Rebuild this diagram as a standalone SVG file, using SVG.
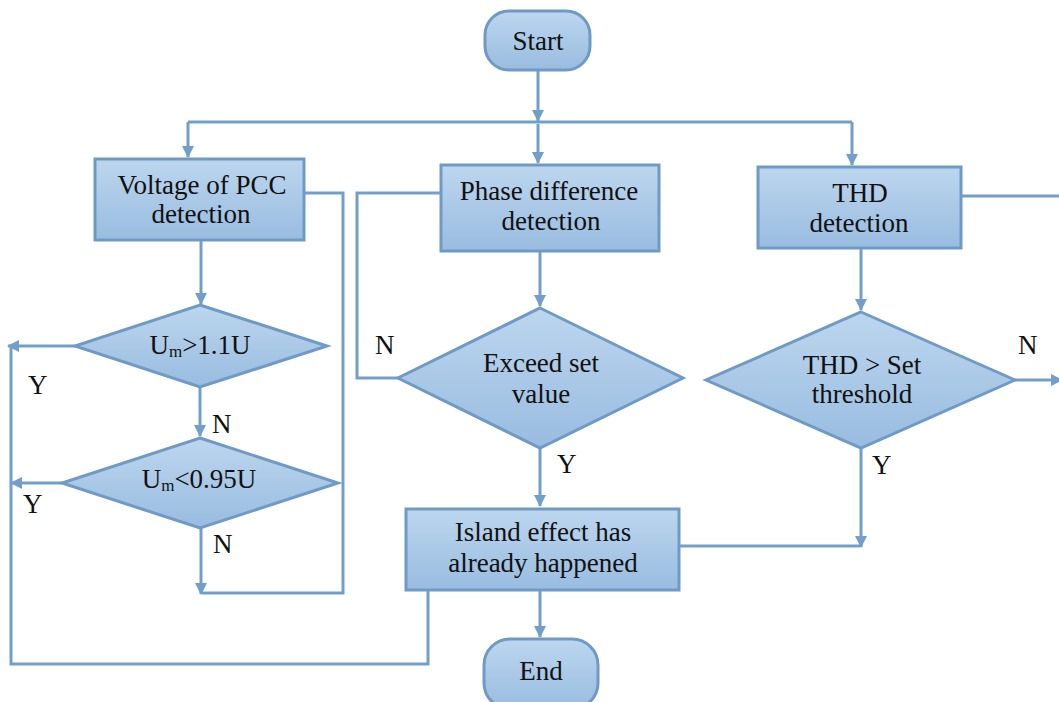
<svg xmlns="http://www.w3.org/2000/svg" width="1059" height="702" viewBox="0 0 1059 702">
<defs>
<linearGradient id="g" x1="0" y1="0" x2="0" y2="1">
<stop offset="0" stop-color="#bdd6ee"/>
<stop offset="1" stop-color="#98bce0"/>
</linearGradient>
<marker id="ah" viewBox="0 0 12 12" refX="11" refY="6" markerWidth="12" markerHeight="12" orient="auto" markerUnits="userSpaceOnUse">
<path d="M0,0 L12,6 L0,12 Z" fill="#729fc9"/>
</marker>
</defs>
<style>
.n{fill:url(#g);stroke:#6f9ac6;stroke-width:3}
.t{font-family:"Liberation Serif","Times New Roman",serif;font-size:27px;fill:#111;text-anchor:middle}
.l{font-family:"Liberation Serif","Times New Roman",serif;font-size:27px;fill:#111}
.c{fill:none;stroke:#729fc9;stroke-width:3}
.a{marker-end:url(#ah)}
</style>
<rect width="1059" height="702" fill="#fff"/>
<g id="connectors">
<path class="c a" d="M538,70 V121"/>
<path class="c" d="M188,122 H852"/>
<path class="c a" d="M188,122 V157"/>
<path class="c a" d="M538,124 V163"/>
<path class="c a" d="M852,122 V165"/>
<path class="c" d="M304,193 H343 V593 H202"/>
<path class="c" d="M440,193 H357 V378 H398"/>
<path class="c a" d="M201,240 V304"/>
<path class="c a" d="M75,346 H8"/>
<path class="c" d="M11,346 V664 H428 V590"/>
<path class="c a" d="M200,387 V436"/>
<path class="c a" d="M62,483 H11"/>
<path class="c a" d="M201,528 V594"/>
<path class="c a" d="M540,251 V306"/>
<path class="c a" d="M540,448 V506"/>
<path class="c" d="M679,546 H860"/>
<path class="c a" d="M861,448 V547"/>
<path class="c a" d="M540,590 V637"/>
<path class="c a" d="M861,248 V310"/>
<path class="c" d="M961,196 H1059"/>
<path class="c a" d="M1015,380 H1062"/>
</g>
<g id="start"><rect class="n" x="485" y="11" width="105" height="59" rx="24"/><text class="t" x="538" y="50">Start</text></g>
<g id="voltage"><rect class="n" x="95" y="159" width="209" height="81"/><text class="t" x="202" y="194">Voltage of PCC</text><text class="t" x="201" y="223">detection</text></g>
<g id="phase"><rect class="n" x="441" y="165" width="218" height="86"/><text class="t" x="549" y="200">Phase difference</text><text class="t" x="551" y="230">detection</text></g>
<g id="thd"><rect class="n" x="758" y="167" width="203" height="81"/><text class="t" x="860" y="202">THD</text><text class="t" x="859" y="232">detection</text></g>
<g id="d1"><polygon class="n" points="200,305 327,346 200,387 75,346"/><text class="t" x="200" y="354">U<tspan font-size="17" dy="3">m</tspan><tspan dy="-3">&gt;1.1U</tspan></text></g>
<g id="d2"><polygon class="n" points="200,438 338,483 200,528 62,483"/><text class="t" x="199" y="488">U<tspan font-size="17" dy="3">m</tspan><tspan dy="-3">&lt;0.95U</tspan></text></g>
<g id="d3"><polygon class="n" points="540,308 683,378 540,448 398,378"/><text class="t" x="541" y="372">Exceed set</text><text class="t" x="541" y="403">value</text></g>
<g id="d4"><polygon class="n" points="861,312 1015,380 861,448 706,380"/><text class="t" x="862" y="374">THD &gt; Set</text><text class="t" x="862" y="403">threshold</text></g>
<g id="island"><rect class="n" x="406" y="509" width="273" height="81"/><text class="t" x="543" y="541">Island effect has</text><text class="t" x="543" y="572">already happened</text></g>
<g id="end"><rect class="n" x="484" y="639" width="114" height="70" rx="26"/><text class="t" x="541" y="680">End</text></g>
<g id="labels">
<text class="l" x="28" y="394">Y</text>
<text class="l" x="212" y="433">N</text>
<text class="l" x="23" y="513">Y</text>
<text class="l" x="213" y="553">N</text>
<text class="l" x="375" y="354">N</text>
<text class="l" x="557" y="473">Y</text>
<text class="l" x="872" y="474">Y</text>
<text class="l" x="1018" y="354">N</text>
</g>
</svg>
